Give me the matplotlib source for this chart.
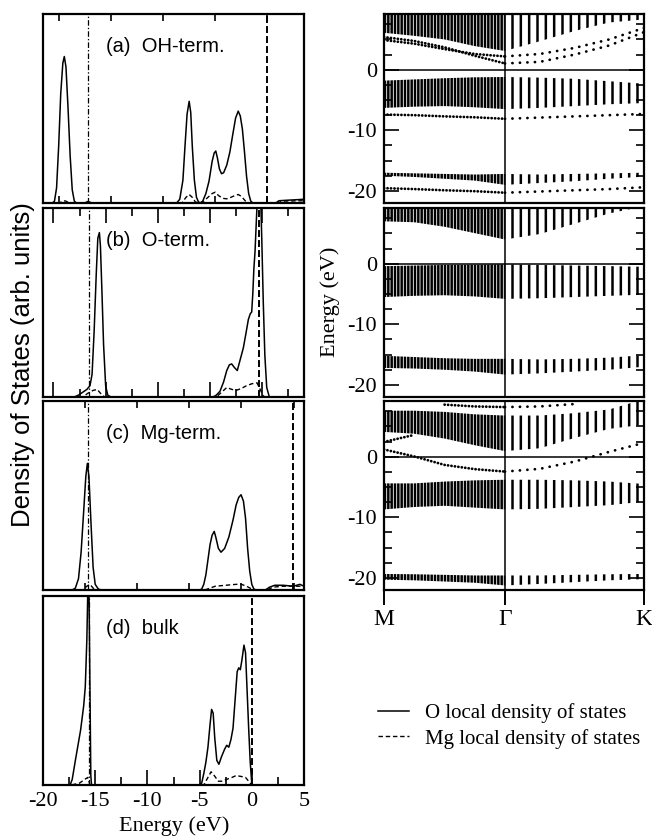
import numpy as np
import matplotlib
matplotlib.use("Agg")
import matplotlib.pyplot as plt
from matplotlib.ticker import MultipleLocator, FixedLocator
from matplotlib.lines import Line2D

plt.rcParams['axes.unicode_minus'] = False
plt.rcParams['font.family'] = 'serif'
plt.rcParams['font.serif'] = ['Liberation Serif', 'DejaVu Serif']
plt.rcParams['font.sans-serif'] = ['Liberation Sans', 'DejaVu Sans']
plt.rcParams['lines.scale_dashes'] = False
plt.rcParams['hatch.linewidth'] = 1.8
plt.rcParams['hatch.color'] = 'black'

# ---------------- DOS data (energy eV, arb. units) ----------------
dos_a_O = [(-20.0, 0.0), (-19.1, 0.0), (-18.9, 0.01), (-18.7, 0.08), (-18.5, 0.30),
           (-18.3, 0.58), (-18.1, 0.74), (-17.96, 0.775), (-17.8, 0.72), (-17.6, 0.50),
           (-17.4, 0.25), (-17.2, 0.07), (-17.0, 0.01), (-16.8, 0.0), (-16.0, 0.0),
           (-15.7, 0.008), (-15.3, 0.0), (-7.2, 0.0), (-6.9, 0.02), (-6.6, 0.12),
           (-6.4, 0.30), (-6.2, 0.47), (-6.0, 0.538), (-5.85, 0.48), (-5.7, 0.30),
           (-5.5, 0.12), (-5.3, 0.03), (-5.1, 0.005), (-4.9, 0.0), (-4.7, 0.01),
           (-4.4, 0.05), (-4.1, 0.115), (-3.8, 0.22), (-3.6, 0.265), (-3.45, 0.275),
           (-3.3, 0.24), (-3.1, 0.18), (-2.9, 0.155), (-2.7, 0.16), (-2.4, 0.20),
           (-2.1, 0.27), (-1.8, 0.37), (-1.55, 0.45), (-1.3, 0.486), (-1.1, 0.46),
           (-0.9, 0.39), (-0.7, 0.27), (-0.5, 0.14), (-0.3, 0.05), (-0.1, 0.01),
           (0.1, 0.0), (2.3, 0.0), (2.6, 0.012), (3.5, 0.015), (4.5, 0.018), (5.0, 0.02)]
dos_a_Mg = [(-20.0, 0.0), (-18.4, 0.0), (-18.1, 0.012), (-17.8, 0.01), (-17.5, 0.0),
            (-6.7, 0.0), (-6.3, 0.03), (-6.0, 0.045), (-5.7, 0.03), (-5.4, 0.005),
            (-5.0, 0.0), (-4.6, 0.01), (-4.2, 0.03), (-3.8, 0.05), (-3.5, 0.057),
            (-3.2, 0.04), (-2.8, 0.025), (-2.4, 0.022), (-2.0, 0.03), (-1.6, 0.04),
            (-1.3, 0.045), (-1.0, 0.035), (-0.6, 0.01), (-0.3, 0.0), (2.4, 0.0),
            (3.0, 0.01), (5.0, 0.012)]

dos_b_O = [(-20.0, 0.0), (-17.0, 0.0), (-16.6, 0.01), (-16.2, 0.025), (-15.8, 0.04),
           (-15.5, 0.06), (-15.3, 0.12), (-15.1, 0.35), (-14.9, 0.65), (-14.75, 0.84),
           (-14.6, 0.87), (-14.5, 0.80), (-14.35, 0.55), (-14.2, 0.28), (-14.0, 0.06),
           (-13.8, 0.01), (-13.5, 0.0), (-3.7, 0.0), (-3.4, 0.01), (-3.05, 0.03),
           (-2.7, 0.08), (-2.4, 0.14), (-2.15, 0.17), (-1.93, 0.175), (-1.65, 0.155),
           (-1.39, 0.14), (-1.1, 0.20), (-0.81, 0.26), (-0.55, 0.34), (-0.33, 0.41),
           (-0.15, 0.44), (-0.01, 0.45), (0.1, 0.55), (0.2, 0.68), (0.31, 0.77),
           (0.45, 0.95), (0.53, 1.05), (0.85, 1.05), (0.95, 0.85), (1.1, 0.5),
           (1.25, 0.22), (1.43, 0.05), (1.68, 0.0), (5.0, 0.0)]
dos_b_Mg = [(-20.0, 0.0), (-16.2, 0.0), (-15.7, 0.02), (-15.2, 0.035), (-14.8, 0.04),
            (-14.5, 0.02), (-14.1, 0.0), (-3.4, 0.0), (-3.0, 0.02), (-2.4, 0.05),
            (-1.9, 0.04), (-1.5, 0.035), (-1.0, 0.045), (-0.5, 0.06), (0.0, 0.07),
            (0.5, 0.075), (0.8, 0.04), (1.1, 0.005), (1.3, 0.0), (5.0, 0.0)]

dos_c_O = [(-20.0, 0.0), (-17.2, 0.0), (-16.9, 0.01), (-16.6, 0.06), (-16.35, 0.2),
           (-16.1, 0.42), (-15.9, 0.6), (-15.75, 0.67), (-15.6, 0.6), (-15.4, 0.35),
           (-15.2, 0.12), (-15.0, 0.03), (-14.7, 0.005), (-14.4, 0.0), (-5.0, 0.0),
           (-4.8, 0.005), (-4.6, 0.03), (-4.4, 0.08), (-4.2, 0.16), (-4.0, 0.24),
           (-3.8, 0.29), (-3.6, 0.31), (-3.45, 0.28), (-3.2, 0.22), (-2.95, 0.20),
           (-2.6, 0.22), (-2.2, 0.28), (-1.8, 0.37), (-1.5, 0.45), (-1.25, 0.49),
           (-1.03, 0.504), (-0.8, 0.47), (-0.6, 0.38), (-0.4, 0.22), (-0.2, 0.10),
           (0.0, 0.03), (0.2, 0.005), (0.4, 0.0), (1.3, 0.0), (1.7, 0.015),
           (2.2, 0.025), (3.0, 0.025), (4.0, 0.02), (4.6, 0.03), (5.0, 0.02)]
dos_c_Mg = [(-20.0, 0.0), (-16.2, 0.0), (-15.8, 0.02), (-15.5, 0.03), (-15.2, 0.01),
            (-14.9, 0.0), (-4.5, 0.0), (-4.0, 0.01), (-3.5, 0.02), (-2.5, 0.025),
            (-1.5, 0.03), (-1.0, 0.03), (-0.5, 0.02), (0.0, 0.005), (0.3, 0.0),
            (1.5, 0.0), (2.0, 0.015), (3.0, 0.02), (4.5, 0.02), (5.0, 0.02)]

dos_d_O = [(-20.0, 0.0), (-17.4, 0.0), (-17.2, 0.03), (-16.9, 0.13), (-16.4, 0.29),
           (-16.1, 0.42), (-15.95, 0.52), (-15.8, 0.77), (-15.7, 1.05), (-15.6, 1.05),
           (-15.5, 0.5), (-15.42, 0.05), (-15.35, 0.0), (-5.0, 0.0), (-4.8, 0.01),
           (-4.6, 0.06), (-4.4, 0.12), (-4.2, 0.20), (-4.0, 0.32), (-3.85, 0.40),
           (-3.7, 0.38), (-3.55, 0.25), (-3.35, 0.13), (-3.15, 0.11), (-2.9, 0.15),
           (-2.6, 0.19), (-2.4, 0.21), (-2.2, 0.20), (-2.0, 0.24), (-1.8, 0.30),
           (-1.6, 0.45), (-1.4, 0.60), (-1.25, 0.62), (-1.1, 0.61), (-0.95, 0.66),
           (-0.75, 0.74), (-0.6, 0.70), (-0.45, 0.50), (-0.3, 0.30), (-0.15, 0.12),
           (-0.02, 0.02), (0.05, 0.0), (5.0, 0.0)]
dos_d_Mg = [(-20.0, 0.0), (-17.3, 0.0), (-16.5, 0.01), (-16.0, 0.03), (-15.7, 0.04),
            (-15.5, 0.0), (-4.6, 0.0), (-4.3, 0.03), (-3.9, 0.07), (-3.6, 0.05),
            (-3.2, 0.02), (-2.8, 0.02), (-2.4, 0.03), (-1.9, 0.04), (-1.5, 0.05),
            (-1.0, 0.045), (-0.6, 0.04), (-0.3, 0.02), (0.0, 0.0), (5.0, 0.0)]

dos_labels = ["(a)  OH-term.", "(b)  O-term.", "(c)  Mg-term.", "(d)  bulk"]
dos_O = [dos_a_O, dos_b_O, dos_c_O, dos_d_O]
dos_Mg = [dos_a_Mg, dos_b_Mg, dos_c_Mg, dos_d_Mg]
fermi_level = [1.42, 0.72, 3.98, 0.05]
o2s_ref = [-15.66, -15.56, -15.66, -15.56]

# ---------------- band structure data ----------------
# k along M-Gamma-K (M=0, Gamma=0.465, K=1)
k_path = [0.0, 0.116, 0.233, 0.349, 0.465, 0.599, 0.733, 0.866, 1.0]
k_labels = ["M", "\u0393", "K"]
k_sym = [0.0, 0.465, 1.0]

# continua of bands: (lower edge, upper edge)
bands_oh_cont = [
    ([6.1, 5.6, 5.0, 3.9, 3.1, 4.7, 6.4, 7.8, 8.3], [10] * 9),
    ([-6.3, -6.1, -6.0, -6.2, -6.5, -6.3, -6.0, -5.7, -5.5],
     [-1.8, -1.6, -1.4, -1.25, -1.2, -1.3, -1.5, -1.9, -2.3]),
    ([-17.5, -17.7, -18.0, -18.3, -19.0, -18.7, -18.4, -18.0, -17.65],
     [-17.0, -17.1, -17.2, -17.3, -17.2, -17.3, -17.2, -17.1, -17.0]),
]
bands_oh_single = [
    [5.4, 4.75, 3.7, 2.3, 1.04, 1.3, 2.5, 4.0, 6.2],
    [4.9, 4.3, 3.4, 2.6, 2.2, 2.6, 3.6, 5.0, 6.9],
    [-7.4, -7.5, -7.7, -7.85, -8.1, -7.9, -7.7, -7.5, -7.3],
    [-19.55, -19.7, -19.9, -20.05, -20.3, -20.1, -19.9, -19.7, -19.4],
]
bands_o_cont = [
    ([7.0, 6.85, 6.1, 5.05, 4.0, 4.9, 6.6, 8.3, 9.5], [10] * 9),
    ([-5.5, -5.3, -5.2, -5.4, -5.8, -5.7, -5.5, -5.3, -5.1],
     [-0.4, -0.3, -0.2, -0.15, -0.1, -0.2, -0.3, -0.4, -0.5]),
    ([-17.2, -17.3, -17.5, -17.8, -18.3, -18.1, -17.8, -17.5, -17.0],
     [-15.2, -15.4, -15.6, -15.7, -15.7, -15.8, -15.7, -15.5, -15.1]),
]
bands_o_single = []
bands_mg_cont = [
    ([4.1, 3.8, 3.0, 1.9, 0.93, 1.4, 3.1, 4.6, 5.3],
     [7.6, 7.6, 7.4, 7.0, 6.8, 6.8, 7.2, 7.8, 9.5]),
    ([-8.7, -8.3, -8.1, -8.4, -8.7, -8.6, -8.3, -8.0, -7.4],
     [-4.4, -4.4, -4.1, -3.9, -3.8, -3.8, -3.9, -4.1, -4.5]),
    ([-20.3, -20.4, -20.6, -20.8, -21.25, -21.0, -20.7, -20.4, -20.2],
     [-19.35, -19.4, -19.5, -19.6, -19.6, -19.6, -19.5, -19.4, -19.35]),
]
bands_mg_single = [
    [1.2, 0.05, -1.35, -2.05, -2.45, -2.0, -0.8, 0.8, 2.3],
    [2.45, 3.6, np.nan, np.nan, np.nan, np.nan, np.nan, np.nan, np.nan],
    [np.nan, np.nan, 8.6, 8.3, 8.2, 8.3, 8.7, np.nan, np.nan],
]
band_panels = [(bands_oh_cont, bands_oh_single),
               (bands_o_cont, bands_o_single),
               (bands_mg_cont, bands_mg_single)]

legend_labels = ["O local density of states", "Mg local density of states"]

# ---------------- layout ----------------
W, H = 652, 840
def px_rect(x0, x1, y0, y1):
    return [x0 / W, 1 - y1 / H, (x1 - x0) / W, (y1 - y0) / H]

PANEL_Y = [(14, 203), (208, 397), (401, 590), (596, 785)]
SANS = 'Liberation Sans'
MG_DASH = (0, (3.2, 2.0))

fig = plt.figure(figsize=(W / 100, H / 100), dpi=100)

# tick style per DOS panel: (offset of majors, minors?, major length, top ticks?)
tick_style = [(1.5, False, 5, True), (1.0, True, 11, True),
              (-1.0, False, 5, True), (0.0, True, 11, False)]

dos_axes = []
for i in range(4):
    ax = fig.add_axes(px_rect(43, 304, *PANEL_Y[i]))
    dos_axes.append(ax)
    o = np.array(dos_O[i])
    m = np.array(dos_Mg[i])
    ax.plot(o[:, 0], o[:, 1], color='k', lw=1.1)
    ax.plot(m[:, 0], m[:, 1], color='k', lw=1.0, ls=MG_DASH)
    ax.axvline(o2s_ref[i], color='k', lw=0.9, ls=(0, (4, 1.5, 1, 1.5)))
    ax.axvline(fermi_level[i], color='k', lw=1.4, ls=(0, (5, 2.2)))
    ax.set_xlim(-20, 5)
    ax.set_ylim(0, 1)
    ax.set_yticks([])
    off, minors, mlen, top = tick_style[i]
    ax.xaxis.set_major_locator(FixedLocator(np.arange(-25, 10, 5) + off))
    if minors:
        ax.xaxis.set_minor_locator(FixedLocator(np.arange(-27.5, 10, 5) + off))
    ax.tick_params(axis='x', which='major', direction='in', length=mlen, width=1.2,
                   top=top, bottom=True)
    ax.tick_params(axis='x', which='minor', direction='in', length=6, width=1.2,
                   top=top, bottom=True)
    for s in ax.spines.values():
        s.set_linewidth(1.6)
    if i < 3:
        ax.tick_params(axis='x', labelbottom=False)
    else:
        ax.tick_params(axis='x', labelsize=16, pad=5)
    ax.text(0.241, 0.83, dos_labels[i], transform=ax.transAxes, family=SANS,
            fontsize=14.5, ha='left', va='center')

fig.text(23 / W, 1 - 365 / H, "Density of States (arb. units)", rotation=90,
         family=SANS, fontsize=18.5, ha='center', va='center')
fig.text(174 / W, 1 - 826 / H, "Energy (eV)", fontsize=16, ha='center', va='center')

# ---------------- band structure panels ----------------
k = np.array(k_path)
for i, (conts, singles) in enumerate(band_panels):
    ax = fig.add_axes(px_rect(384, 644, *PANEL_Y[i]))
    for lo, hi in conts:
        lo = np.array(lo)
        hi = np.array(hi)
        ax.fill_between(k[:5], lo[:5], hi[:5], facecolor='none', edgecolor='k',
                        hatch='|||||', linewidth=0)
        ax.fill_between(k[4:], lo[4:], hi[4:], facecolor='none', edgecolor='k',
                        hatch='||', linewidth=0)
    for e in singles:
        e = np.array(e, dtype=float)
        ax.plot(k[:5], e[:5], color='k', lw=2.0, ls=(0, (0.1, 2.4)),
                dash_capstyle='round')
        ax.plot(k[4:], e[4:], color='k', lw=2.0, ls=(0, (0.1, 5.3)),
                dash_capstyle='round')
    ax.axhline(0, color='k', lw=1.1)
    ax.axvline(k_sym[1], color='k', lw=1.1)
    ax.set_xlim(0, 1)
    ax.set_ylim(-22, 9.2)
    ax.yaxis.set_major_locator(MultipleLocator(10))
    ax.yaxis.set_minor_locator(MultipleLocator(2.5))
    ax.tick_params(axis='y', which='major', direction='in', length=11, width=1.2,
                   left=True, right=True, labelsize=16, pad=5)
    ax.tick_params(axis='y', which='minor', direction='in', length=6, width=1.2,
                   left=True, right=True)
    for s in ax.spines.values():
        s.set_linewidth(1.6)
    if i < 2:
        ax.set_xticks([])
    else:
        ax.set_xticks(k_sym, k_labels)
        ax.tick_params(axis='x', direction='out', length=11, width=1.4,
                       labelsize=17, pad=3)

fig.text(330 / W, 1 - 302 / H, "Energy (eV)", rotation=90, fontsize=16,
         ha='center', va='center')

handles = [Line2D([], [], color='k', lw=1.1),
           Line2D([], [], color='k', lw=1.0, ls=MG_DASH)]
fig.legend(handles, legend_labels, loc='center left',
           bbox_to_anchor=(378 / W, 1 - 726 / H), frameon=False, fontsize=15,
           handlelength=1.5, handletextpad=0.75, labelspacing=0.25,
           borderaxespad=0, borderpad=0)

fig.savefig("out.png", dpi=100)
